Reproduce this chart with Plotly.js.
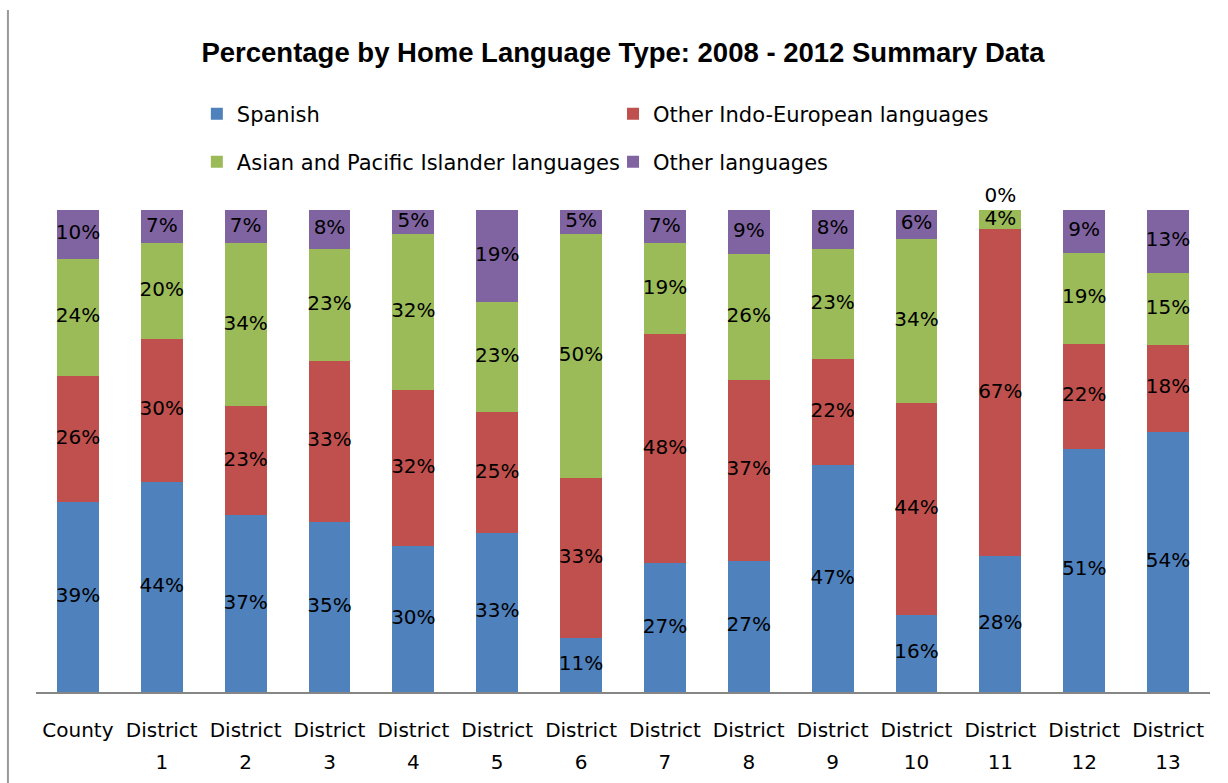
<!DOCTYPE html>
<html>
<head>
<meta charset="utf-8">
<script src="https://cdn.plot.ly/plotly-3.0.1.min.js"></script>
<style>html,body{margin:0;padding:0;background:#fff;}</style>
</head>
<body>
<div id="chart" style="width:1228px;height:783px;"></div>
<script>
const categories = ["County","District 1","District 2","District 3","District 4","District 5","District 6","District 7","District 8","District 9","District 10","District 11","District 12","District 13"];
const tickLine1 = ["County","District","District","District","District","District","District","District","District","District","District","District","District","District"];
const tickLine2 = ["","1","2","3","4","5","6","7","8","9","10","11","12","13"];
const spanish      = [39,44,37,35,30,33,11,27,27,47,16,28,51,54];
const otherIndoEur = [26,30,23,33,32,25,33,48,37,22,44,67,22,18];
const asianPacific = [24,20,34,23,32,23,50,19,26,23,34,4,19,15];
const otherLang    = [10,7,7,8,5,19,5,7,9,8,6,0,9,13];

const seriesNames = ["Spanish","Other Indo-European languages","Asian and Pacific Islander languages","Other languages"];
const seriesColors = ["#4F81BD","#C0504D","#9BBB59","#8064A2"];
const seriesData = [spanish, otherIndoEur, asianPacific, otherLang];
const legendIds = ["legend","legend2","legend3","legend4"];

const FONT = "DejaVu Sans, Verdana, sans-serif";

// Bars; a zero-height top segment shows its label just above the stack
const barTraces = seriesData.map((vals, i) => ({
  type: "bar",
  name: seriesNames[i],
  x: categories,
  y: vals,
  text: vals.map(v => v === 0 ? v + "%" : ""),
  textposition: "outside",
  textangle: 0,
  cliponaxis: false,
  outsidetextfont: {family: FONT, size: 20, color: "#000"},
  marker: {color: seriesColors[i], line: {width: 0}},
  legend: legendIds[i],
  hoverinfo: "x+name+y"
}));

// Labels in the middle of each normalised (100%) stacked segment
const totals = categories.map((c, j) => seriesData.reduce((s, arr) => s + arr[j], 0));
const cum = categories.map(() => 0);
const labelTraces = seriesData.map((vals, i) => {
  const ys = vals.map((v, j) => {
    const mid = (cum[j] + v / 2) / totals[j] * 100;
    cum[j] += v;
    return v === 0 ? null : mid;
  });
  return {
    type: "scatter",
    mode: "text",
    x: categories,
    y: ys,
    text: vals.map(v => v === 0 ? "" : v + "%"),
    textposition: "middle center",
    textfont: {family: FONT, size: 20, color: "#000"},
    cliponaxis: false,
    showlegend: false,
    hoverinfo: "skip"
  };
});

const legendPos = [
  {x: 0.137, y: 1.199},
  {x: 0.4915, y: 1.199},
  {x: 0.137, y: 1.0996},
  {x: 0.4915, y: 1.0996}
];

const catRange = [-0.5, categories.length - 0.5];

const layout = {
  width: 1228,
  height: 783,
  margin: {l: 36, r: 18, t: 210, b: 91},
  paper_bgcolor: "#fff",
  plot_bgcolor: "#fff",
  barmode: "stack",
  barnorm: "percent",
  bargap: 0.5,
  showlegend: true,
  title: {
    text: "<b>Percentage by Home Language Type: 2008 - 2012 Summary Data</b>",
    font: {family: "Liberation Sans, Arial, sans-serif", size: 27.5, color: "#000"},
    x: 0.5, xanchor: "center", xref: "paper",
    y: 1 - 52/783, yanchor: "middle", yref: "container"
  },
  xaxis: {
    type: "category",
    categoryarray: categories,
    range: catRange,
    autorange: false,
    tickvals: categories,
    ticktext: tickLine1,
    showline: true,
    linecolor: "#868686",
    linewidth: 2,
    ticks: "",
    ticklabelstandoff: 19,
    showgrid: false,
    zeroline: false,
    tickfont: {family: FONT, size: 20, color: "#000"},
    fixedrange: true
  },
  xaxis2: {
    type: "category",
    overlaying: "x",
    anchor: "y",
    side: "bottom",
    categoryarray: categories,
    range: catRange,
    autorange: false,
    tickvals: categories,
    ticktext: tickLine2,
    showline: false,
    ticks: "",
    ticklabelstandoff: 56,
    showgrid: false,
    zeroline: false,
    tickfont: {family: FONT, size: 20, color: "#000"},
    fixedrange: true
  },
  yaxis: {
    range: [0, 100],
    autorange: false,
    visible: false,
    showgrid: false,
    zeroline: false,
    fixedrange: true
  },
  shapes: [{
    type: "line", xref: "paper", yref: "paper",
    x0: -0.0239, x1: -0.0239, y0: (692-10)/482, y1: -0.2,
    line: {color: "#999999", width: 2}
  }]
};

legendIds.forEach((id, i) => {
  layout[id] = {
    x: legendPos[i].x, xanchor: "left",
    y: legendPos[i].y, yanchor: "middle",
    orientation: "v",
    bgcolor: "rgba(0,0,0,0)",
    font: {family: FONT, size: 21, color: "#000"},
    itemclick: false, itemdoubleclick: false
  };
});

// tick-number row drawn on the overlaying axis
const tickRow = {
  type: "scatter", mode: "none", x: categories, y: categories.map(() => null),
  xaxis: "x2", yaxis: "y", showlegend: false, hoverinfo: "skip"
};

Plotly.newPlot("chart", barTraces.concat(labelTraces, [tickRow]), layout, {displayModeBar: false, staticPlot: true});
</script>
</body>
</html>
